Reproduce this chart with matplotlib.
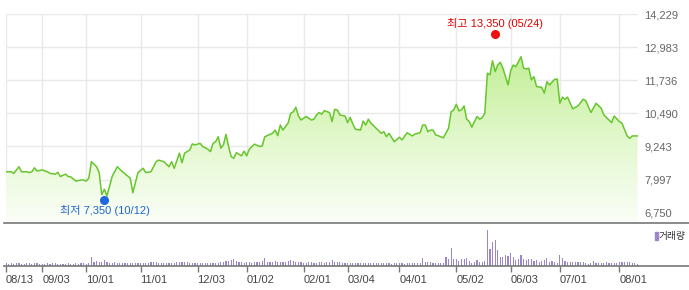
import numpy as np
import matplotlib.pyplot as plt
from matplotlib.colors import LinearSegmentedColormap
from matplotlib.lines import Line2D
from matplotlib.transforms import ScaledTranslation

plt.rcParams['font.family'] = ['Liberation Sans', 'Noto Sans CJK KR']

# trading-day index (0 = 08/13) and closing price
trade_day = [0, 2, 3, 5, 6, 8, 9, 10, 11, 12, 14, 16, 17, 19, 20, 21, 23, 24, 25, 27,
             29, 30, 31, 32, 33, 35, 36, 37, 38, 39, 41, 43, 45, 47, 48, 49, 51, 53, 54, 56,
             58, 59, 61, 63, 64, 65, 67, 68, 69, 71, 72, 73, 75, 76, 78, 79, 80, 81, 82, 83,
             84, 85, 86, 87, 88, 89, 91, 92, 93, 94, 96, 98, 99, 100, 103, 104, 105, 106, 107, 109,
             110, 111, 112, 113, 114, 116, 118, 119, 120, 121, 122, 123, 125, 126, 127, 128, 129, 131, 132, 133,
             134, 135, 137, 138, 139, 140, 141, 143, 145, 146, 147, 148, 150, 152, 153, 155, 157, 158, 160, 161,
             162, 163, 164, 165, 166, 168, 169, 171, 172, 173, 174, 175, 176, 177, 178, 179, 180, 181, 182, 183,
             184, 185, 186, 187, 188, 189, 190, 191, 192, 193, 194, 195, 196, 197, 199, 200, 201, 202, 203, 204,
             205, 207, 208, 209, 210, 212, 213, 214, 215, 216, 217, 218, 219, 221, 223, 224, 226, 228, 230, 231,
             234, 235, 237, 238, 240, 241, 242, 244]
close = [8290, 8290, 8230, 8480, 8290, 8290, 8260, 8290, 8440, 8320, 8360, 8290, 8230, 8200, 8270, 8110, 8200, 8110, 8100, 7940,
         7980, 7980, 7940, 8050, 8670, 8480, 8260, 7430, 7630, 7380, 8110, 8480, 8290, 8130, 8050, 7500, 8260, 8420, 8260, 8290,
         8670, 8730, 8670, 8480, 8670, 8420, 8990, 8630, 8990, 9110, 9340, 9300, 9360, 9240, 9140, 9050, 9360, 9420, 9610, 9180,
         9300, 9700, 9240, 8860, 8800, 9010, 8890, 9070, 8890, 9140, 9330, 9240, 9260, 9610, 9740, 9860, 9650, 10050, 9860, 10120,
         10490, 10550, 10720, 10390, 10240, 10370, 10240, 10270, 10430, 10520, 10460, 10590, 10520, 10180, 10640, 10620, 10430, 10390, 10140, 10340,
         10090, 9890, 9860, 10200, 10050, 10270, 10120, 9930, 9740, 9800, 9610, 9740, 9420, 9590, 9490, 9760, 9640, 9710, 9760, 10050,
         10050, 9800, 9860, 9860, 9680, 9610, 9570, 9930, 10550, 10620, 10830, 10580, 10620, 10770, 10270, 10180, 9970, 10180, 10370, 10270,
         10330, 10490, 12000, 11940, 12470, 12060, 12310, 12410, 12190, 11870, 11560, 12090, 12310, 12250, 12620, 12190, 12160, 12190, 11750, 11870,
         11500, 11470, 11250, 11680, 11560, 11770, 11780, 10870, 11100, 11020, 11100, 10870, 10660, 10770, 11020, 10970, 10520, 10870, 10680, 10430,
         10140, 10390, 10180, 10120, 9640, 9550, 9640, 9640]

# daily volume (thousand shares), index 0..244
volume = ([300, 250, 280, 230, 260, 300, 240, 220, 260, 280, 230, 350, 260, 240, 220, 250, 270, 230, 260, 300,
           240, 230, 250, 220, 270, 240, 230, 280, 250, 260, 300, 240, 280]
          + [930]
          + [400, 550, 450, 400, 600, 450, 350, 300, 450, 300, 280, 320, 300, 280, 350, 300, 320, 350, 300]
          + [300, 280, 320, 450, 380, 400, 350, 300, 320, 300, 280, 350, 320, 380, 400, 420, 450, 400, 350, 320, 300, 280]
          + [300, 320, 280, 350, 320, 300, 280, 350, 400, 450, 500, 550, 650, 700, 550, 450, 400, 350, 380]
          + [400, 350, 420, 380, 450, 500, 770, 450, 400, 420, 480, 400, 380, 420, 450, 500, 650, 480, 420, 400, 380, 350]
          + [350, 380, 400, 350, 320, 400, 380, 350, 420, 400, 600, 450, 400, 380, 350, 330]
          + [320, 300, 350, 280, 300, 330, 280, 300, 320, 280, 300, 270, 290, 300, 280, 260, 290, 250, 280, 300]
          + [280, 300, 250, 320, 300, 280, 350, 300, 320, 770, 400, 420, 380, 300, 350, 330, 300, 280, 930, 700, 1770, 700]
          + [700, 530, 700, 700, 830, 530, 330, 430, 600, 370, 370, 530]
          + [3600, 1700, 2430, 2600, 1600, 930, 930, 1100, 1000, 1270, 870, 600, 700, 1100]
          + [700, 600, 700, 700, 530, 600, 430, 500, 600, 830, 430, 500, 430, 270]
          + [1100, 770, 500, 430, 400, 400, 420, 400, 380, 400, 270, 250, 280, 500, 350, 330, 350, 330, 370, 340,
             350, 350, 300, 400, 400, 420, 380, 400, 350, 270, 250])

tick_days = [0, 14, 31, 52, 74, 93, 115, 132, 152, 174, 195, 214, 237]
tick_labels = ['08/13', '09/03', '10/01', '11/01', '12/03', '01/02', '02/01',
               '03/04', '04/01', '05/02', '06/03', '07/01', '08/01']
price_ticks = [6750, 7997, 9243, 10490, 11736, 12983, 14229]

high_day, high_val, high_text = 189, 13350, '최고 13,350 (05/24)'
low_day, low_val, low_text = 38, 7350, '최저 7,350 (10/12)'

W, H = 689, 290
fig = plt.figure(figsize=(W / 100, H / 100), dpi=100)
ax = fig.add_axes([6 / W, 1 - 223 / H, 632 / W, 209 / H])
axv = fig.add_axes([6 / W, 1 - 266 / H, 632 / W, 43 / H])

xmax = 244.2
ylo, yhi = 6362, 14229

# price panel
ax.set_xlim(0, xmax)
ax.set_ylim(ylo, yhi)
for s in ax.spines.values():
    s.set_visible(False)
ax.set_xticks(tick_days)
ax.set_xticklabels([])
ax.tick_params(axis='x', length=0)
ax.yaxis.tick_right()
ax.set_yticks(price_ticks)
ax.set_yticklabels([f'{v:,}' for v in price_ticks])
ax.tick_params(axis='y', length=0, pad=4.5, labelsize=8, labelcolor='#666666')
for lab in ax.get_yticklabels():
    lab.set_horizontalalignment('left')
ax.grid(True, color='#e9e9e9', linewidth=1.0)
ax.set_axisbelow(True)

poly = ax.fill_between(trade_day, close, ylo, facecolor='none', edgecolor='none')
cmap = LinearSegmentedColormap.from_list('g', ['#fbfef8', '#e2f8cc', '#c2ee95'])
grad = np.linspace(0, 1, 256).reshape(-1, 1)
im = ax.imshow(grad, extent=[0, xmax, ylo, 12700], origin='lower', aspect='auto',
               cmap=cmap, zorder=1.5)
im.set_clip_path(poly.get_paths()[0], transform=ax.transData)
ax.plot(trade_day, close, color='#66c62c', linewidth=1.1, zorder=3)

up = ScaledTranslation(0, 3 / 100, fig.dpi_scale_trans)
down = ScaledTranslation(0, -3.5 / 100, fig.dpi_scale_trans)
ax.plot([high_day], [high_val], 'o', color='#ee1111', markersize=5.5,
        transform=ax.transData + up, zorder=4)
ax.plot([low_day], [low_val], 'o', color='#2266dd', markersize=5.5,
        transform=ax.transData + down, zorder=4)
ax.annotate(high_text, xy=(high_day, high_val), xytext=(0, 9.7), textcoords='offset points',
            ha='center', va='center', fontsize=8, color='#e00000')
ax.annotate(low_text, xy=(low_day, low_val), xytext=(0.5, -10.2), textcoords='offset points',
            ha='center', va='center', fontsize=8, color='#1f66cc')

# volume panel
axv.bar(range(len(volume)), volume, width=0.45, color='#9a86c8')
axv.set_xlim(0, xmax)
axv.set_ylim(0, 4300)
for s in axv.spines.values():
    s.set_visible(False)
axv.set_yticks([])
axv.set_xticks(tick_days)
axv.set_xticklabels(tick_labels)
axv.tick_params(axis='x', direction='out', length=4, width=1, color='#777777',
                pad=2.5, labelsize=8, labelcolor='#444444')
for lab in axv.get_xticklabels():
    lab.set_horizontalalignment('left')

# full-width separator lines
for yy in (223, 266):
    fig.add_artist(Line2D([4 / W, 1], [1 - yy / H, 1 - yy / H], color='#777777', linewidth=1.2))

# volume legend
fig.add_artist(plt.Rectangle((655 / W, 1 - 240 / H), 3 / W, 8 / H, color='#9a86c8'))
fig.text(659 / W, 1 - 236 / H, '거래량', fontsize=7, color='#333333', va='center', ha='left')

fig.savefig('out.png', dpi=100)
